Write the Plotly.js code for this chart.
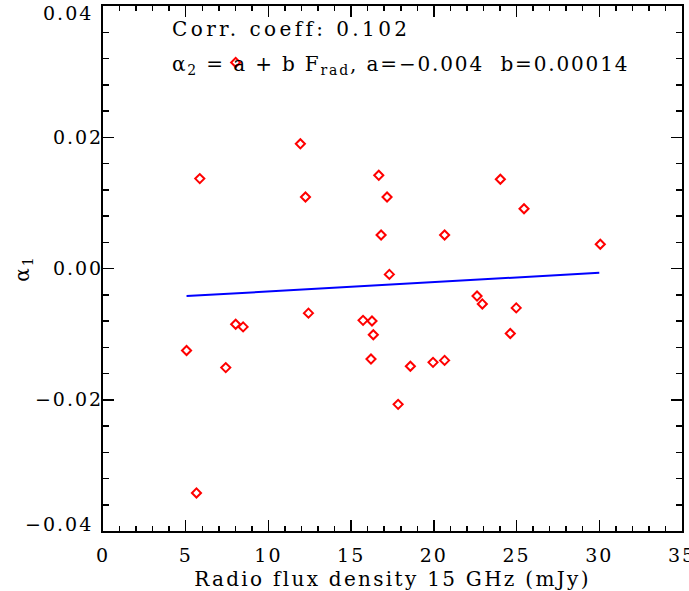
<!DOCTYPE html>
<html>
<head>
<meta charset="utf-8">
<script src="https://cdn.plot.ly/plotly-3.0.1.min.js"></script>
<style>
html,body{margin:0;padding:0;background:#fff;}
#chart{width:689px;height:591px;}
#chart .annotation-text {letter-spacing:2px;}
#chart g.annotation[data-index="0"] .annotation-text {letter-spacing:3.4px;}
#chart g.annotation[data-index="1"] .annotation-text {letter-spacing:1.85px;}
#chart .xtitle {letter-spacing:2.3px;}
#chart .ytitle {letter-spacing:2px;}
#chart .xtick text, #chart .ytick text {letter-spacing:2px;}
</style>
</head>
<body>
<div id="chart"></div>
<script>
// Radio flux density 15 GHz (mJy)
const fluxValues = [8.02, 5.85, 11.93, 12.24, 16.67, 17.17, 16.81, 17.31, 24.02, 25.45, 20.65, 30.06,
  5.05, 7.42, 8.02, 8.47, 12.42, 15.72, 16.26, 16.34, 16.20, 22.61, 22.93, 24.98, 24.62, 18.58, 19.95, 20.65, 17.84, 5.65];
// alpha_1 values
const alphaValues = [0.0314, 0.0137, 0.0190, 0.0109, 0.0142, 0.0109, 0.0051, -0.0009, 0.0136, 0.0091, 0.0051, 0.0037,
  -0.0125, -0.0151, -0.0085, -0.0089, -0.0068, -0.0079, -0.0080, -0.0101, -0.0138, -0.0042, -0.0054, -0.0060, -0.0099, -0.0149, -0.0143, -0.0140, -0.0207, -0.0342];
// fitted line endpoints
const fitX = [5.05, 30.0];
const fitY = [-0.0042, -0.00065];
const xTicks = [0, 5, 10, 15, 20, 25, 30, 35];
const yTicks = [-0.04, -0.02, 0.00, 0.02, 0.04];
const yTickText = ['', '\u22120.02', '0.00', '0.02', ''];
// end labels of the y axis, drawn slightly inside the frame as in the reference
const yEndVals = [0.04, -0.04];
const yEndText = ['0.04', '\u22120.04'];

const font = {family: 'DejaVu Serif, Liberation Serif, serif', size: 19, color: '#000'};
const titleFont = {family: 'DejaVu Serif, Liberation Serif, serif', size: 20, color: '#000'};

const traces = [
  {x: fitX, y: fitY, mode: 'lines', type: 'scatter', line: {color: '#0000ff', width: 2}, hoverinfo: 'skip'},
  {x: fluxValues, y: alphaValues, mode: 'markers', type: 'scatter',
   marker: {symbol: 'diamond-open', size: 7, color: '#ff0000', line: {width: 2, color: '#ff0000'}}}
];

const axisCommon = {
  showgrid: false, zeroline: false, showline: true, linecolor: '#000', linewidth: 2,
  mirror: 'ticks', ticks: 'inside', tickcolor: '#000', tickwidth: 1.5, ticklen: 11,
  tickfont: font, ticklabeloverflow: 'allow'
};

const endAnnotations = yEndVals.map((v, i) => ({
  xref: 'paper', yref: 'y', x: 0, y: v, xanchor: 'right', yanchor: 'middle',
  xshift: -8, yshift: v > 0 ? -7 : 7, showarrow: false, align: 'right',
  text: yEndText[i], font: font
}));

const layout = {
  width: 689, height: 591,
  margin: {l: 103, r: 7, t: 6, b: 60},
  paper_bgcolor: '#fff', plot_bgcolor: '#fff',
  showlegend: false,
  font: font,
  xaxis: Object.assign({}, axisCommon, {
    range: [0, 35], tickvals: xTicks, ticktext: xTicks.map(String),
    minor: {dtick: 1, tick0: 0, ticks: 'inside', ticklen: 5, tickcolor: '#000', tickwidth: 1.5},
    title: {text: 'Radio flux density 15 GHz (mJy)', font: titleFont, standoff: 10},
    ticklabelstandoff: 6
  }),
  yaxis: Object.assign({}, axisCommon, {
    range: [-0.04, 0.04], tickvals: yTicks, ticktext: yTickText,
    minor: {dtick: 0.004, tick0: 0, ticks: 'inside', ticklen: 6, tickcolor: '#000', tickwidth: 1.5},
    title: {text: '\u03b1<sub>1</sub>', font: titleFont, standoff: 10},
    ticklabelstandoff: -6
  }),
  annotations: [
    {xref: 'paper', yref: 'paper', x: 0.115, y: 0.957, xanchor: 'left', yanchor: 'middle', showarrow: false,
     align: 'left', text: 'Corr. coeff: 0.102', font: titleFont},
    {xref: 'paper', yref: 'paper', x: 0.115, y: 0.888, xanchor: 'left', yanchor: 'middle', showarrow: false,
     align: 'left', text: '\u03b1<sub>2</sub> = a + b F<sub>rad</sub>, a=\u22120.004\u00a0\u00a0b=0.00014', font: titleFont}
  ].concat(endAnnotations)
};

Plotly.newPlot('chart', traces, layout, {displayModeBar: false, staticPlot: true});
</script>
</body>
</html>
